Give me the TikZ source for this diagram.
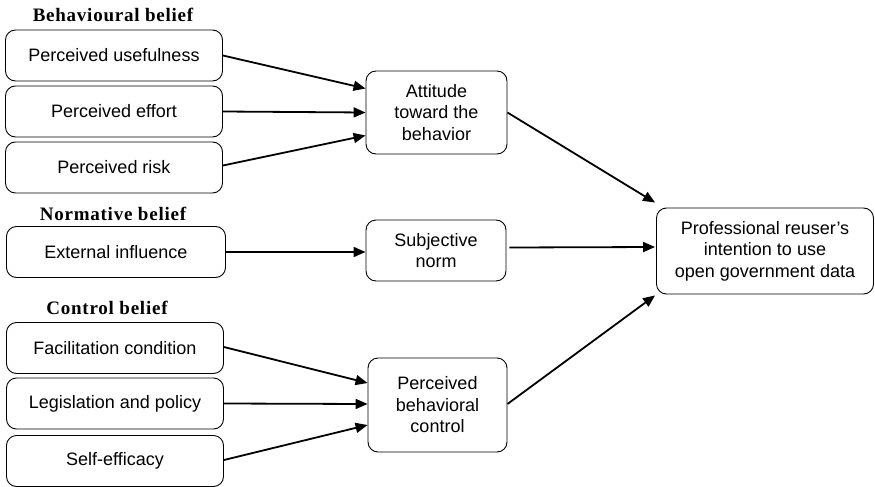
\documentclass[tikz,border=0pt]{standalone}
\usepackage{fontspec}
\setmainfont{Liberation Sans}
\newfontfamily\titlefont[LetterSpace=4]{Liberation Serif}
\usetikzlibrary{arrows.meta}
\tikzset{
  box/.style={draw, rounded corners=10pt, line width=0.9pt, align=center,
    font=\fontsize{18}{21.5}\selectfont, inner sep=0pt},
  leftbox/.style={box, minimum width=217pt, minimum height=51pt},
  midbox/.style={box, minimum width=140pt},
  grouptitle/.style={font=\titlefont\bfseries\fontsize{19}{22}\selectfont, inner sep=0pt},
  conn/.style={line width=1.8pt, -{Triangle[length=12pt,width=10pt]}}
}
\begin{document}
\begin{tikzpicture}[x=1pt,y=-1pt]
\useasboundingbox (0,0) rectangle (875,487);
% titles
\node[grouptitle] (t1) at (113,15) {Behavioural belief};
\node[grouptitle] (t2) at (113,214) {Normative belief};
\node[grouptitle] (t3) at (107,308) {Control belief};
% left boxes
\node[leftbox] (use) at (114,55.5) {Perceived usefulness};
\node[leftbox] (eff) at (114,111.5) {Perceived effort};
\node[leftbox] (risk) at (114,167.5) {Perceived risk};
\node[leftbox, minimum width=219pt] (ext) at (116,252) {External influence};
\node[leftbox] (fac) at (115,348) {Facilitation condition};
\node[leftbox] (leg) at (115,403.5) {Legislation and policy};
\node[leftbox] (self) at (115,461) {Self-efficacy};
% middle boxes
\node[midbox, minimum width=141pt, minimum height=83pt] (att) at (436.5,112.5) {Attitude\\toward the\\behavior};
\node[midbox, minimum height=61pt] (sub) at (436,250.5) {Subjective\\norm};
\node[midbox, minimum width=139pt, minimum height=94pt] (pbc) at (437.5,405) {Perceived\\behavioral\\control};
% right box
\node[box, minimum width=217pt, minimum height=86pt] (prof) at (765,251) {Professional reuser's\\intention to use\\open government data};
% connectors
\draw[conn] (use.east) -- ([yshift=24pt]att.west);
\draw[conn] (eff.east) -- (att.west);
\draw[conn] ([yshift=2pt]risk.east) -- ([yshift=-23pt]att.west);
\draw[conn] (ext.east) -- ([yshift=-1.5pt]sub.west);
\draw[conn] ([yshift=1pt]fac.east) -- ([yshift=22pt]pbc.west);
\draw[conn] (leg.east) -- ([yshift=1pt]pbc.west);
\draw[conn] ([yshift=1pt]self.east) -- ([yshift=-20pt]pbc.west);
\draw[conn] (att.east) -- ([xshift=-1pt,yshift=5pt]prof.north west);
\draw[conn] ([xshift=3pt,yshift=3pt]sub.east) -- ([xshift=-1pt,yshift=4pt]prof.west);
\draw[conn] ([yshift=1pt]pbc.east) -- ([xshift=-1pt,yshift=-1pt]prof.south west);
\end{tikzpicture}
\end{document}
